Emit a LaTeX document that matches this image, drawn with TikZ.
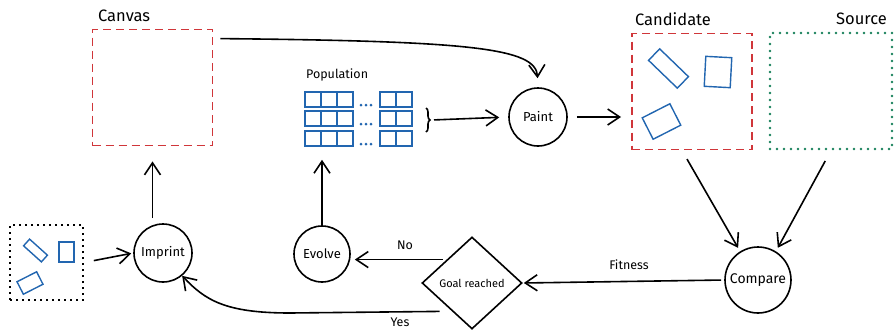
\documentclass[tikz,border=0pt]{standalone}
\usepackage{fontspec}
\setmainfont{Fira Sans}
\usetikzlibrary{arrows.meta,shapes.geometric,decorations.pathreplacing}

\definecolor{sketchred}{HTML}{D0363A}
\definecolor{sketchblue}{HTML}{2266B0}
\definecolor{sketchgreen}{HTML}{17805A}

\begin{document}
\begin{tikzpicture}[x=1pt, y=-1pt, line width=1.6pt,
  arr/.style={-{Straight Barb[length=12pt,width=16pt]}},
  circ/.style={draw, circle, inner sep=0pt, font=\fontsize{13}{15}\selectfont},
  redbox/.style={draw=sketchred, line width=1.8pt, dash pattern=on 8pt off 5pt,
    minimum width=120pt, minimum height=116pt},
  greenbox/.style={draw=sketchgreen, line width=2.8pt, line cap=round,
    dash pattern=on 0pt off 7pt, minimum width=122pt, minimum height=116pt},
  blackbox/.style={draw, line width=2pt, dash pattern=on 2pt off 4pt,
    minimum width=73pt, minimum height=75pt},
  piece/.style={draw=sketchblue, line width=1.4pt},
  title/.style={font=\fontsize{16.5}{18}\selectfont},
  lbl/.style={font=\fontsize{12.5}{14}\selectfont}]
  \useasboundingbox (0,0) rectangle (894,333);

  % 上排：Canvas、Candidate、Source 三个框
  \node[redbox]   (canvas) at (152.5,87.5) {};
  \node[redbox]   (cand)   at (692,91.5)   {};
  \node[greenbox] (source) at (831,91)     {};
  \node[title, anchor=west] (canvaslbl) at (94,16)  {Canvas};
  \node[title, anchor=west] (candlbl)   at (631,19) {Candidate};
  \node[title, anchor=east] (sourcelbl) at (891,19) {Source};

  % Candidate 里的三块
  \draw[piece, rotate around={-44:(668.5,68.5)}] (648.5,60.5) rectangle (688.5,76.5);
  \draw[piece, rotate around={-3:(718,72)}]      (705,57) rectangle (731,87);
  \draw[piece, rotate around={27:(661.5,121.5)}] (646,109.5) rectangle (677,133.5);

  % Population 网格（每行 3 + 点 + 2）
  \node[lbl, anchor=west] (poplbl) at (302,75) {Population};
  \foreach \y in {92,111,131} {
    \foreach \x in {305,321,337,380,396}
      \draw[piece] (\x,\y) rectangle ++(16,15);
    \foreach \d in {0,1,2}
      \fill[sketchblue] (361+\d*5,\y+13) circle (1.5pt);
  }
  \node[minimum width=108pt, minimum height=56pt] (pop) at (358,119) {};
  \draw[decorate, decoration={brace, amplitude=4pt}] (426,108) -- (426,132);
  \coordinate (bracetip) at (432,120);

  % 圆形步骤
  \node[circ, minimum size=58pt] (paint)   at (538,117) {Paint};
  \node[circ, minimum size=58pt] (imprint) at (163,253) {Imprint};
  \node[circ, minimum size=56pt] (evolve)  at (322,254) {Evolve};
  \node[circ, minimum size=66pt, font=\fontsize{14}{16}\selectfont] (compare) at (758,280) {Compare};
  \node[draw, diamond, inner sep=0pt, minimum width=100pt, minimum height=92pt,
        font=\fontsize{11}{12}\selectfont] (goal) at (472,283) {Goal reached};

  % 左下角的点线框
  \node[blackbox] (lbox) at (46.5,262.5) {};
  \draw[piece, rotate around={-42:(35.5,250.5)}] (23.5,246) rectangle (47.5,255);
  \draw[piece] (59,242) rectangle (74,262);
  \draw[piece, rotate around={27:(30,283)}] (19,276) rectangle (41,290);

  % 箭头
  \draw[arr, shorten >=9pt] ([xshift=7pt,yshift=-10pt]canvas.north east)
    .. controls (470,41) and (536,48) .. (paint.north);
  \draw[arr, shorten <=2pt, shorten >=9pt] (bracetip) -- (paint.west);
  \draw[arr, shorten <=9pt, shorten >=10pt] (paint.east) -- (paint.east -| cand.west);
  \draw[arr, shorten <=10pt, shorten >=4pt] ([xshift=-10pt]cand.south) -- (compare.122);
  \draw[arr, shorten <=12pt, shorten >=4pt] (source.south) -- (compare.58);
  \draw[arr, shorten <=3pt, shorten >=1pt] (compare.west) -- (goal.east);
  \draw[arr, shorten >=4pt] ([xshift=-4pt]goal.north west) -- (goal.north west -| evolve.east);
  \draw[arr, shorten >=12pt] (evolve.north) -- (evolve.north |- pop.south);
  \draw[arr, shorten <=5pt, shorten >=15pt] (imprint.north -| canvas.south) -- (canvas.south);
  \draw[arr, shorten <=10pt, shorten >=2pt] (lbox.east) -- (imprint.west);
  \draw[arr] ([shift={(-7,5)}]goal.south west) -- (290,313)
    .. controls (225,313) and (205,300) .. (imprint.-50);

  % 标签
  \node[lbl] (nolbl)  at (405,245) {No};
  \node[lbl] (yeslbl) at (400,322) {Yes};
  \node[lbl] (fitlbl) at (629,265) {Fitness};
\end{tikzpicture}
\end{document}
